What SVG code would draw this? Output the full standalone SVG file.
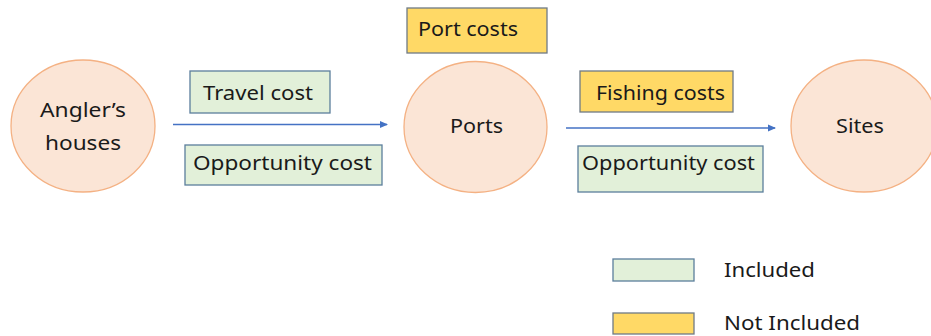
<svg xmlns="http://www.w3.org/2000/svg" width="931" height="336" viewBox="0 0 931 336">
<defs>
<style>
.node{fill:#FBE5D6;stroke:#F4B183;stroke-width:1.3}
.inc{fill:#E2F0D9;stroke:#5B7E9C;stroke-width:1.3}
.not{fill:#FFD966;stroke:#6F7A86;stroke-width:1.3}
text{font-family:"Noto Sans","Open Sans","Liberation Sans",sans-serif;font-size:20.5px;fill:#1a1a1a}
.c{text-anchor:middle}
.edge{stroke:#4472C4;stroke-width:1.3;fill:none}
</style>
<marker id="ah" markerWidth="8" markerHeight="8" refX="7" refY="4" orient="auto" markerUnits="userSpaceOnUse">
<path d="M0,0.5 L8,4 L0,7.5 Z" fill="#4472C4"/>
</marker>
</defs>
<rect width="931" height="336" fill="#ffffff"/>
<g id="edges">
<line class="edge" x1="173" y1="124.5" x2="387" y2="124.5" marker-end="url(#ah)"/>
<line class="edge" x1="566" y1="128" x2="775" y2="128" marker-end="url(#ah)"/>
</g>
<g id="anglers-houses">
<ellipse class="node" cx="83" cy="126" rx="72" ry="66"/>
<text class="c" x="83" y="117" textLength="86" lengthAdjust="spacingAndGlyphs">Angler’s</text>
<text class="c" x="83" y="150" textLength="76" lengthAdjust="spacingAndGlyphs">houses</text>
</g>
<g id="ports">
<ellipse class="node" cx="475.5" cy="127" rx="71.5" ry="65.5"/>
<text x="450" y="133" textLength="53" lengthAdjust="spacingAndGlyphs">Ports</text>
</g>
<g id="sites">
<ellipse class="node" cx="864" cy="126" rx="73" ry="66"/>
<text x="836" y="133" textLength="48" lengthAdjust="spacingAndGlyphs">Sites</text>
</g>
<g id="travel-cost">
<rect class="inc" x="190" y="71" width="140" height="42"/>
<text x="203" y="100" textLength="110" lengthAdjust="spacingAndGlyphs">Travel cost</text>
</g>
<g id="opportunity-cost-1">
<rect class="inc" x="185" y="145" width="197" height="40"/>
<text x="193" y="170" textLength="179" lengthAdjust="spacingAndGlyphs">Opportunity cost</text>
</g>
<g id="port-costs">
<rect class="not" x="407" y="8" width="140" height="45"/>
<text x="418" y="36" textLength="100" lengthAdjust="spacingAndGlyphs">Port costs</text>
</g>
<g id="fishing-costs">
<rect class="not" x="580" y="71" width="153" height="41"/>
<text x="596" y="100" textLength="129" lengthAdjust="spacingAndGlyphs">Fishing costs</text>
</g>
<g id="opportunity-cost-2">
<rect class="inc" x="578" y="146" width="185" height="46"/>
<text x="582" y="170" textLength="173" lengthAdjust="spacingAndGlyphs">Opportunity cost</text>
</g>
<g id="legend-included">
<rect class="inc" x="613" y="259" width="81" height="22"/>
<text x="724" y="277" textLength="91" lengthAdjust="spacingAndGlyphs">Included</text>
</g>
<g id="legend-not-included">
<rect class="not" x="613" y="313" width="81" height="21"/>
<text x="724" y="330" textLength="136" lengthAdjust="spacingAndGlyphs">Not Included</text>
</g>
</svg>
